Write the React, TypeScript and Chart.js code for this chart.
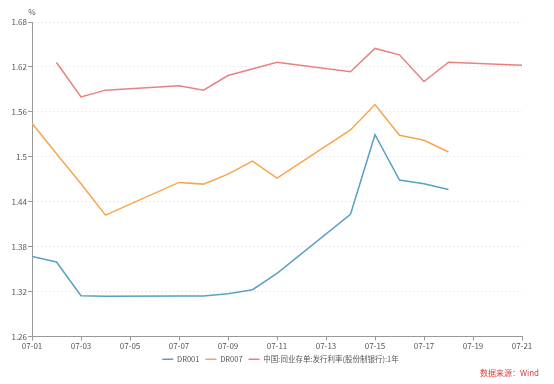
import React, { useEffect, useRef } from "react";
import { Chart, registerables } from "chart.js";

Chart.register(...registerables);

const dates = ["07-01", "07-02", "07-03", "07-04", "07-07", "07-08", "07-09", "07-10", "07-11", "07-14", "07-15", "07-16", "07-17", "07-18", "07-21"];
const dr001 = [1.3667, 1.3595, 1.3145, 1.3136, 1.314, 1.314, 1.3172, 1.3225, 1.3444, 1.4233, 1.5295, 1.4689, 1.4639, 1.4564, null];
const dr007 = [1.5448, 1.504, 1.464, 1.422, 1.4658, 1.4635, 1.4769, 1.4943, 1.4715, 1.5358, 1.5697, 1.5287, 1.522, 1.5064, null];
const ncd1y = [null, 1.6259, 1.58, 1.589, 1.5947, 1.589, 1.6085, null, 1.6262, 1.6135, 1.6447, 1.6362, 1.6005, 1.6264, 1.6224];

const seriesNames = ["DR001", "DR007", "中国:同业存单:发行利率(股份制银行):1年"];
const seriesColors = ["#5a9fc4", "#f8a54e", "#ea8181"];
const yTicks = [1.26, 1.32, 1.38, 1.44, 1.5, 1.56, 1.62, 1.68];
const xStart = "07-01";
const xEnd = "07-21";
const unitLabel = "%";
const sourceLabel = "数据来源：Wind";

const FONT = "'Noto Sans CJK SC', 'Noto Sans', sans-serif";
const dayOf = (d: string) => parseInt(d.slice(3), 10);
const toPoints = (vals: (number | null)[]) =>
  dates
    .map((d, i) => ({ x: dayOf(d), y: vals[i] }))
    .filter((p) => p.y !== null);

export default function App() {
  const ref = useRef<HTMLCanvasElement | null>(null);

  useEffect(() => {
    if (!ref.current) return;
    const extras = {
      id: "extras",
      afterDraw(chart: any) {
        const { ctx, chartArea } = chart;
        ctx.save();
        ctx.font = `8px ${FONT}`;
        ctx.fillStyle = "#555";
        ctx.textAlign = "center";
        ctx.textBaseline = "middle";
        ctx.fillText(unitLabel, chartArea.left, 12);
        ctx.fillStyle = "#e03a3a";
        ctx.textAlign = "right";
        ctx.fillText(sourceLabel, 539, 372.5);
        ctx.restore();
      },
    };
    const chart = new Chart(ref.current, {
      type: "line",
      data: {
        datasets: [dr001, dr007, ncd1y].map((vals, i) => ({
          label: seriesNames[i],
          data: toPoints(vals),
          borderColor: seriesColors[i],
          backgroundColor: seriesColors[i],
          borderWidth: 1.5,
          pointRadius: 0,
          tension: 0,
          fill: false,
          yAxisID: "y",
        })),
      },
      options: {
        animation: false,
        responsive: true,
        maintainAspectRatio: false,
        layout: { padding: { top: 22, left: 7, right: 0, bottom: 11 } },
        plugins: {
          tooltip: { enabled: false },
          legend: {
            position: "bottom",
            labels: {
              usePointStyle: true,
              pointStyle: "line",
              pointStyleWidth: 11,
              padding: 6,
              color: "#555",
              font: { family: FONT, size: 7.5 },
            },
          },
        },
        scales: {
          x: {
            type: "linear",
            min: dayOf(xStart),
            max: dayOf(xEnd),
            afterFit: (s: any) => {
              s.height = 13;
            },
            ticks: {
              stepSize: 2,
              padding: 1,
              maxRotation: 0,
              autoSkip: false,
              color: "#555",
              font: { family: FONT, size: 8 },
              callback: (v: any) => "07-" + String(v).padStart(2, "0"),
            },
            grid: {
              drawOnChartArea: false,
              drawTicks: true,
              tickLength: 4,
              tickColor: "#999",
            },
            border: { color: "#999", width: 1 },
          },
          y: {
            type: "linear",
            position: "left",
            min: yTicks[0],
            max: yTicks[yTicks.length - 1],
            afterFit: (s: any) => {
              s.width = 25;
            },
            afterBuildTicks: (s: any) => {
              s.ticks = yTicks.map((v) => ({ value: v }));
            },
            ticks: {
              padding: 1,
              color: "#555",
              font: { family: FONT, size: 8 },
              callback: (v: any) => String(Number(Number(v).toFixed(2))),
            },
            grid: {
              color: "#ececec",
              lineWidth: 1,
              tickLength: 4,
              tickColor: "#999",
            },
            border: { color: "#999", width: 1, dash: [2, 2] },
          },
          y2: {
            type: "linear",
            position: "right",
            display: true,
            afterFit: (s: any) => {
              s.width = 32;
            },
            ticks: { display: false },
            grid: { display: false, drawOnChartArea: false },
            border: { display: false },
          },
        },
      },
      plugins: [extras],
    } as any);
    return () => chart.destroy();
  }, []);

  return (
    <div style={{ position: "fixed", left: 0, top: 0, width: 554, height: 384, background: "#fff" }}>
      <canvas ref={ref} />
    </div>
  );
}
